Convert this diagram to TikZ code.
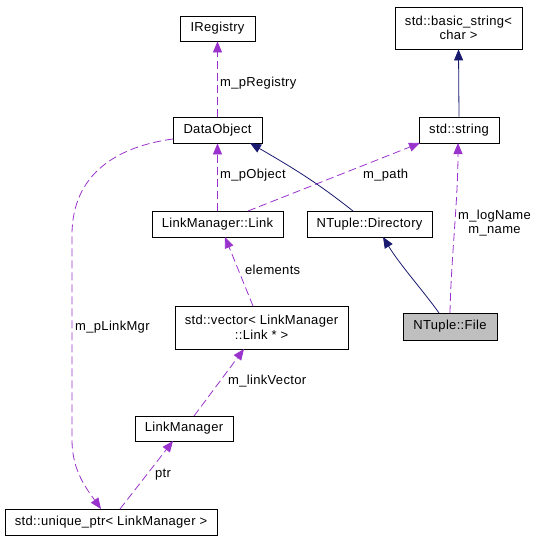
\documentclass[tikz,border=0pt]{standalone}
\usepackage{fontspec}
\setmainfont{Liberation Sans}[LetterSpace=2.5]
\usetikzlibrary{arrows.meta}
\definecolor{edgepurple}{HTML}{9A32CD}
\definecolor{edgenavy}{HTML}{191970}
\definecolor{focusgray}{HTML}{BFBFBF}
\begin{document}
\begin{tikzpicture}[x=1pt,y=-1pt,
  font=\fontsize{13}{14.5}\selectfont,
  cls/.style={draw=black,line width=0.8pt,fill=white,inner sep=0pt,align=center},
  use/.style={draw=edgepurple,line width=0.8pt,dash pattern=on 8pt off 4pt,
     -{Triangle[length=11pt,width=9pt,fill=edgepurple]}},
  inh/.style={draw=edgenavy,line width=0.8pt,
     -{Triangle[length=11pt,width=9pt,fill=edgenavy]}},
  lbl/.style={anchor=west,inner sep=0pt,align=center}]
\useasboundingbox (0,0) rectangle (539,541);
% nodes
\node[cls,minimum width=75pt,minimum height=25pt] (ireg) at (217.5,28.5) {IRegistry};
\node[cls,minimum width=89pt,minimum height=26pt] (dobj) at (217.5,130) {DataObject};
\node[cls,minimum width=127pt,minimum height=42pt] (bstr) at (458.5,28) {std::basic\_string\textless\\char \textgreater};
\node[cls,minimum width=80pt,minimum height=26pt] (str) at (459,130) {std::string};
\node[cls,minimum width=131pt,minimum height=26pt] (link) at (217.5,224) {LinkManager::Link};
\node[cls,minimum width=125pt,minimum height=26pt] (dir) at (369.5,224) {NTuple::Directory};
\node[cls,fill=focusgray,minimum width=94pt,minimum height=27pt] (file) at (450,326.5) {NTuple::File};
\node[cls,minimum width=173pt,minimum height=43pt] (vec) at (261.5,327.5) {std::vector\textless\ LinkManager\\::Link * \textgreater};
\node[cls,minimum width=98pt,minimum height=25pt] (lmgr) at (184,428.5) {LinkManager};
\node[cls,minimum width=212pt,minimum height=26pt] (uptr) at (111,522) {std::unique\_ptr\textless\ LinkManager \textgreater};
% coordinates on borders
\coordinate (dobjL) at (173,139);
\coordinate (uptrT1) at (101,509);
% edges
\draw[use] (dobj.north) -- (ireg.south);
\draw[use] (link.north) -- (dobj.south);
\draw[use] (dobjL) .. controls (120,146) and (72,172) .. (72,235) -- (72,440) .. controls (72,470) and (86,488) .. (uptrT1);
\draw[use] (248,211) -- (420,143);
\draw[use] (450,313) .. controls (451,260) and (458,200) .. (458,143);
\draw[inh] (str.north) -- (bstr.south);
\draw[inh] (353,211) .. controls (320,185) and (300,172) .. (250,143);
\draw[inh] (439,313) .. controls (425,293) and (400,265) .. (383,237);
\draw[use] (253,306) -- (225,237);
\draw[use] (194,416) -- (244,349);
\draw[use] (120,509) -- (173,441);
% labels
\node[lbl] (l1) at (220,83) {m\_pRegistry};
\node[lbl] (l2) at (220,175) {m\_pObject};
\node[lbl] (l3) at (363,175) {m\_path};
\node[lbl] (l4) at (75,327) {m\_pLinkMgr};
\node[lbl] (l5) at (245,270) {elements};
\node[lbl] (l6) at (228,381) {m\_linkVector};
\node[lbl] (l7) at (155,475) {ptr};
\node[lbl] (l8) at (458,223) {m\_logName\\m\_name};
\end{tikzpicture}
\end{document}
